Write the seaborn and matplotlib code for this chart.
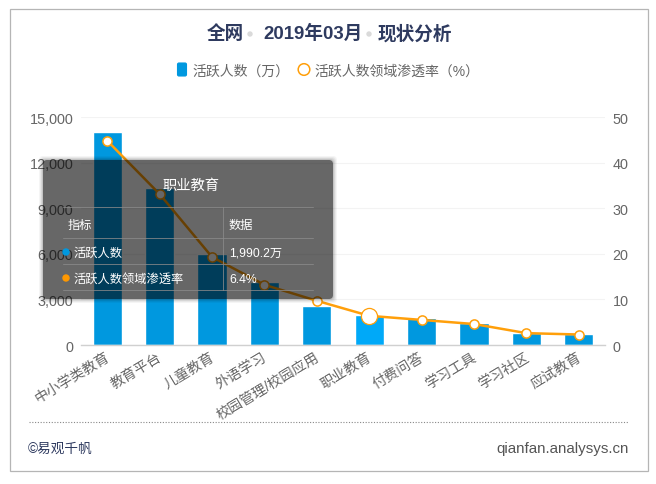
import numpy as np
import pandas as pd
import matplotlib
matplotlib.use('Agg')
import matplotlib.pyplot as plt
import seaborn as sns
from matplotlib.patches import FancyBboxPatch, Rectangle, Circle
from matplotlib.lines import Line2D
from matplotlib.transforms import IdentityTransform, Affine2D

categories = ['中小学类教育', '教育平台', '儿童教育', '外语学习', '校园管理/校园应用',
              '职业教育', '付费问答', '学习工具', '学习社区', '应试教育']
active_users = [14010, 10330, 5990, 4145, 2566, 1990.2, 1776, 1447, 790, 724]
penetration = [44.8, 33.1, 19.3, 13.2, 9.7, 6.4, 5.5, 4.6, 2.6, 2.3]
left_ticks = [0, 3000, 6000, 9000, 12000, 15000]
right_ticks = [0, 10, 20, 30, 40, 50]

W, H = 656, 485
BLUE = '#0098DF'
BLUE_HI = '#00A9F8'
ORANGE = '#FF9F0A'
NAVY = '#2E3A5F'
GREY = '#666666'

sns.set_theme(style='white')
plt.rcParams['font.family'] = ['Liberation Sans', 'Noto Sans CJK SC', 'DejaVu Sans']

df = pd.DataFrame({'category': categories, 'users': active_users, 'rate': penetration})

fig = plt.figure(figsize=(W / 100, H / 100), dpi=100, facecolor='white')
ax = fig.add_axes([81 / W, 1 - 346 / H, 524 / W, 228 / H])

# bars
sns.barplot(data=df, x='category', y='users', color=BLUE, width=0.56, saturation=1, ax=ax)
ax.patches[5].set_facecolor(BLUE_HI)
ax.set_xlim(-0.5, 9.5)
ax.set_ylim(0, 15000)
ax.set_yticks(left_ticks)
ax.set_yticklabels([f'{v:,}' for v in left_ticks])
ax.set_xlabel('')
ax.set_ylabel('')
ax.set_xticks(range(len(categories)))
ax.set_xticklabels(categories, rotation=31, ha='right', rotation_mode='anchor')
ax.tick_params(axis='x', length=0, pad=3, labelsize=10.2, labelcolor=GREY)
ax.tick_params(axis='y', length=0, pad=5.5, labelsize=10.4, labelcolor=GREY)
for lab in ax.get_xticklabels():
    lab.set_transform(lab.get_transform() + Affine2D().translate(-2.5, 0))
ax.grid(axis='y', color='#F3F3F3', lw=0.8)
ax.set_axisbelow(True)
sns.despine(ax=ax, left=True, right=True, top=True)
ax.spines['bottom'].set_color('#D0D0D0')
ax.spines['bottom'].set_linewidth(1)

# line on second axis
ax2 = ax.twinx()
sns.lineplot(x=np.arange(len(categories)), y=df['rate'], color=ORANGE, lw=1.8, ax=ax2,
             marker='o', markersize=6.6, markerfacecolor='white', markeredgecolor=ORANGE,
             markeredgewidth=1.1, errorbar=None, sort=False, zorder=5)
sns.scatterplot(x=[5], y=[penetration[5]], s=135, color='white', edgecolor=ORANGE,
                linewidth=0.9, ax=ax2, zorder=6, legend=False, clip_on=False)
ax2.set_ylim(0, 50)
ax2.set_yticks(right_ticks)
ax2.set_xlabel('')
ax2.set_ylabel('')
ax2.tick_params(axis='y', length=0, pad=5.5, labelsize=10.4, labelcolor=GREY)
ax2.grid(False)
sns.despine(ax=ax2, left=True, right=True, top=True, bottom=True)


def y_disp(y):
    return H - y


def px_text(x, y, s, **kw):
    kw.setdefault('va', 'center')
    kw.setdefault('transform', IdentityTransform())
    return fig.text(x, y_disp(y), s, **kw)


def px_line(x0, y0, x1, y1, **kw):
    fig.add_artist(Line2D([x0, x1], [y_disp(y0), y_disp(y1)], transform=IdentityTransform(), **kw))


# outer frame
fig.add_artist(Rectangle((9.5, y_disp(472)), 638.5, 462, transform=IdentityTransform(),
                         fill=False, edgecolor='#B5B5B5', lw=0.9))

# title pieces
for x, s in [(225, '全网'), (313, '2019年03月'), (415, '现状分析')]:
    px_text(x, 34, s, ha='center', fontsize=13.4, fontweight='bold', color=NAVY)
for x in (250, 369):
    fig.add_artist(Circle((x, y_disp(35)), 2, transform=IdentityTransform(), color='#DADADA'))

# legend
fig.add_artist(FancyBboxPatch((177.5, y_disp(77)), 9, 13, boxstyle='round,pad=0,rounding_size=1.5',
                              transform=IdentityTransform(), facecolor=BLUE, edgecolor=BLUE, lw=0.8))
px_text(192, 71.5, '活跃人数（万）', ha='left', fontsize=10, color=GREY)
fig.add_artist(Circle((304, y_disp(70.5)), 5.8, transform=IdentityTransform(), facecolor='white',
                      edgecolor=ORANGE, lw=1.1))
px_text(314, 71.5, '活跃人数领域渗透率（%）', ha='left', fontsize=10, color=GREY)

# footer
px_line(29, 423, 629, 423, color='#888888', lw=0.8, ls=(0, (1, 1.5)))
px_text(28, 448.5, '©易观千帆', ha='left', fontsize=9.8, color=NAVY)
px_text(629, 449.5, 'qianfan.analysys.cn', ha='right', fontsize=10.9, color='#555555')

# tooltip
Z = 20
for grow, a in [(4, 0.04), (3, 0.05), (2, 0.07), (1, 0.09)]:
    fig.add_artist(FancyBboxPatch((43 - grow, y_disp(300) - grow), 290 + 2 * grow, 139 + 2 * grow,
                                  boxstyle='round,pad=0,rounding_size=4', transform=IdentityTransform(),
                                  facecolor='black', edgecolor='none', alpha=a, zorder=Z - 1))
fig.add_artist(FancyBboxPatch((43, y_disp(300)), 290, 139, boxstyle='round,pad=0,rounding_size=4',
                              transform=IdentityTransform(), facecolor='black', edgecolor='none',
                              alpha=0.47, zorder=Z))
for y in (208, 239, 265, 291):
    px_line(63, y, 313, y, color='#8A8A8A', lw=0.7, alpha=0.8, zorder=Z + 1)
px_line(223, 208, 223, 291, color='#8A8A8A', lw=0.7, alpha=0.8, zorder=Z + 1)
px_text(190.5, 186, '职业教育', ha='center', fontsize=10.3, color='white', zorder=Z + 2)
px_text(68, 226, '指标', ha='left', fontsize=8.8, color='white', zorder=Z + 2)
px_text(229, 226, '数据', ha='left', fontsize=8.8, color='white', zorder=Z + 2)
for y, colour, name, val in [(253, BLUE, '活跃人数', f'{active_users[5]:,.1f}万'),
                             (279, '#FF9800', '活跃人数领域渗透率', f'{penetration[5]}%')]:
    fig.add_artist(Circle((66, y_disp(y)), 3, transform=IdentityTransform(), color=colour, zorder=Z + 2))
    px_text(74, y + 1, name, ha='left', fontsize=8.8, color='white', zorder=Z + 2)
    px_text(229, y + 1, val, ha='left', fontsize=8.8, color='white', zorder=Z + 2)

fig.savefig('out.png', dpi=100)
